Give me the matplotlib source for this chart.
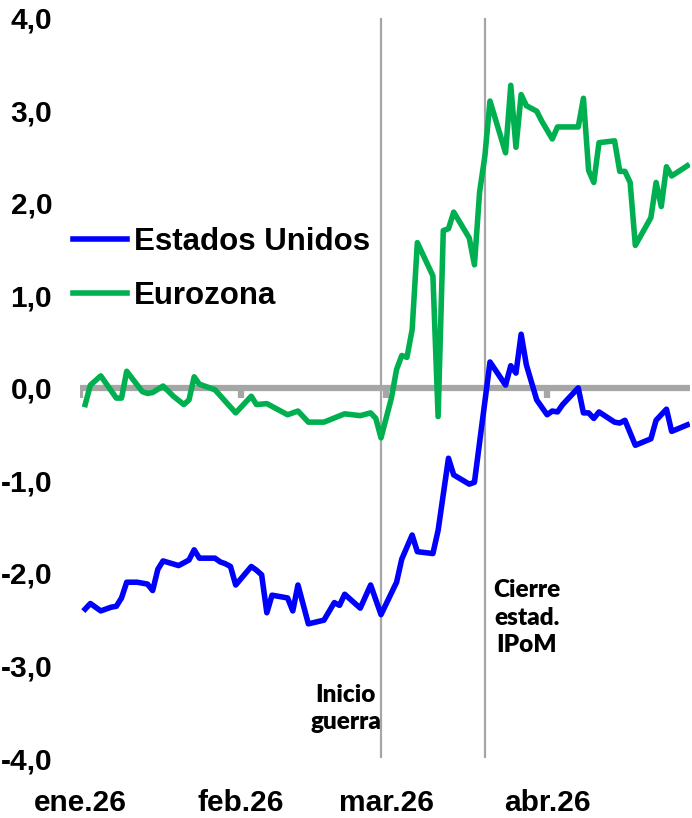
import numpy as np
import pandas as pd
import matplotlib
matplotlib.use("Agg")
import matplotlib.pyplot as plt

# dias contados desde el 1-ene-2026
dias_eu = [1, 2, 4, 6, 7, 8, 9, 11, 13, 14, 15, 16, 19, 21, 22, 23, 26, 27, 28, 29,
           30, 33, 34, 35, 36, 37, 40, 41, 42, 44, 47, 49, 50, 51, 54, 56, 58,
           61, 62, 64, 65, 68, 69, 71, 72, 75, 76, 79, 82, 83, 84, 85, 86, 88,
           90, 91, 92, 93, 96, 97, 98, 99, 100, 103, 104, 105, 107, 110, 111,
           113, 114, 117]
eeuu = [-2.39, -2.33, -2.41, -2.37, -2.36, -2.27, -2.10, -2.10, -2.12, -2.19,
        -1.96, -1.87, -1.92, -1.86, -1.75, -1.84, -1.84, -1.88, -1.90, -1.93,
        -2.13, -1.93, -1.97, -2.02, -2.43, -2.24, -2.27, -2.41, -2.13, -2.55,
        -2.51, -2.32, -2.35, -2.23, -2.38, -2.13, -2.45,
        -2.10, -1.85, -1.59, -1.77, -1.79, -1.54, -0.76, -0.94, -1.04, -1.02,
        0.28, 0.03, 0.24, 0.16, 0.58, 0.25, -0.13,
        -0.29, -0.25, -0.26, -0.18, 0.00, -0.27, -0.27, -0.33, -0.26, -0.37,
        -0.38, -0.35, -0.62, -0.55, -0.35, -0.23, -0.47, -0.40]

dias_ez = [1, 2, 4, 7, 8, 9, 12, 13, 14, 16, 18, 20, 21, 22, 23, 26,
           30, 33, 34, 36, 38, 40, 42, 44, 47, 51, 54, 56, 57, 58,
           60, 61, 62, 63, 64, 65, 68, 69, 70, 71, 72, 75, 76, 77, 78, 79,
           82, 83, 84, 85, 86, 88, 89,
           91, 92, 96, 97, 98, 99, 100, 103, 104, 105, 106, 107, 110, 111,
           112, 113, 114, 117]
eurozona = [-0.18, 0.03, 0.13, -0.11, -0.11, 0.18, -0.04, -0.06, -0.05, 0.02,
            -0.09, -0.18, -0.13, 0.12, 0.04, -0.02,
            -0.27, -0.09, -0.18, -0.17, -0.23, -0.29, -0.25, -0.37, -0.37,
            -0.28, -0.30, -0.27, -0.33, -0.54,
            -0.11, 0.20, 0.35, 0.33, 0.63, 1.57, 1.21, -0.31, 1.70, 1.72, 1.90,
            1.62, 1.33, 2.12, 2.50, 3.10,
            2.54, 3.27, 2.60, 3.17, 3.05, 2.99, 2.88,
            2.69, 2.82, 2.82, 3.13, 2.35, 2.22, 2.65, 2.67, 2.34, 2.34, 2.22,
            1.54, 1.84, 2.22, 1.96, 2.39, 2.29, 2.40]

meses = ["2026-01-01", "2026-02-01", "2026-03-01", "2026-04-01"]
meses_lbl = ["ene.26", "feb.26", "mar.26", "abr.26"]
eventos = ["2026-02-28", "2026-03-20"]
eventos_lbl = ["Inicio\nguerra", "Cierre\nestad.\nIPoM"]

base = pd.Timestamp("2026-01-01")
f_eu = base + pd.to_timedelta(dias_eu, unit="D")
f_ez = base + pd.to_timedelta(dias_ez, unit="D")
f_meses = pd.to_datetime(meses)
f_eventos = pd.to_datetime(eventos)

plt.rcParams["font.family"] = ["Liberation Sans", "DejaVu Sans"]
gris = "#A6A6A6"

fig = plt.figure(figsize=(6.92, 8.18), dpi=100)
ax = fig.add_axes([0.1156, 0.0733, 0.882, 0.905])

# linea del cero y marcas de mes
ax.axhline(0, color=gris, lw=4.5, zorder=1)
ax.vlines(f_meses, -0.11, 0, color=gris, lw=4.5, zorder=1)

# eventos
for f in f_eventos:
    ax.axvline(f, color=gris, lw=1.6, zorder=1)

ax.plot(f_eu, eeuu, color="#0000FF", lw=4, label="Estados Unidos", zorder=3)
ax.plot(f_ez, eurozona, color="#00B050", lw=4, label="Eurozona", zorder=3)

ax.text(f_eventos[0], -3.2, eventos_lbl[0], ha="right", va="top",
        multialignment="center", fontsize=17.5, fontweight="heavy",
        family=["Lato", "DejaVu Sans"], linespacing=1.25,
        transform=ax.transData)
ax.annotate(eventos_lbl[1], (f_eventos[1], -2.07), xytext=(6, 0),
            textcoords="offset points", ha="left", va="top",
            multialignment="center", fontsize=17.5, fontweight="heavy",
            family=["Lato", "DejaVu Sans"], linespacing=1.3)

ax.set_ylim(-4, 4)
ax.set_xlim(base, base + pd.Timedelta(days=117.6))
ax.set_yticks(np.arange(-4, 4.1, 1))
ax.set_yticklabels([f"{v:.1f}".replace(".", ",") for v in np.arange(-4, 4.1, 1)])
ax.set_xticks(f_meses)
ax.set_xticklabels(meses_lbl)
ax.tick_params(axis="both", length=0, labelsize=21.5)
ax.tick_params(axis="y", pad=20)
ax.tick_params(axis="x", pad=22)
for t in ax.get_xticklabels() + ax.get_yticklabels():
    t.set_fontweight("bold")
for s in ax.spines.values():
    s.set_visible(False)

ax.legend(loc="upper left", bbox_to_anchor=(0.105, 0.722),
          bbox_transform=fig.transFigure, frameon=False,
          prop={"size": 22.5, "weight": "bold"}, handlelength=1.75,
          handletextpad=0.2, labelspacing=0.76, borderpad=0, borderaxespad=0)

plt.savefig("out.png", dpi=100)
